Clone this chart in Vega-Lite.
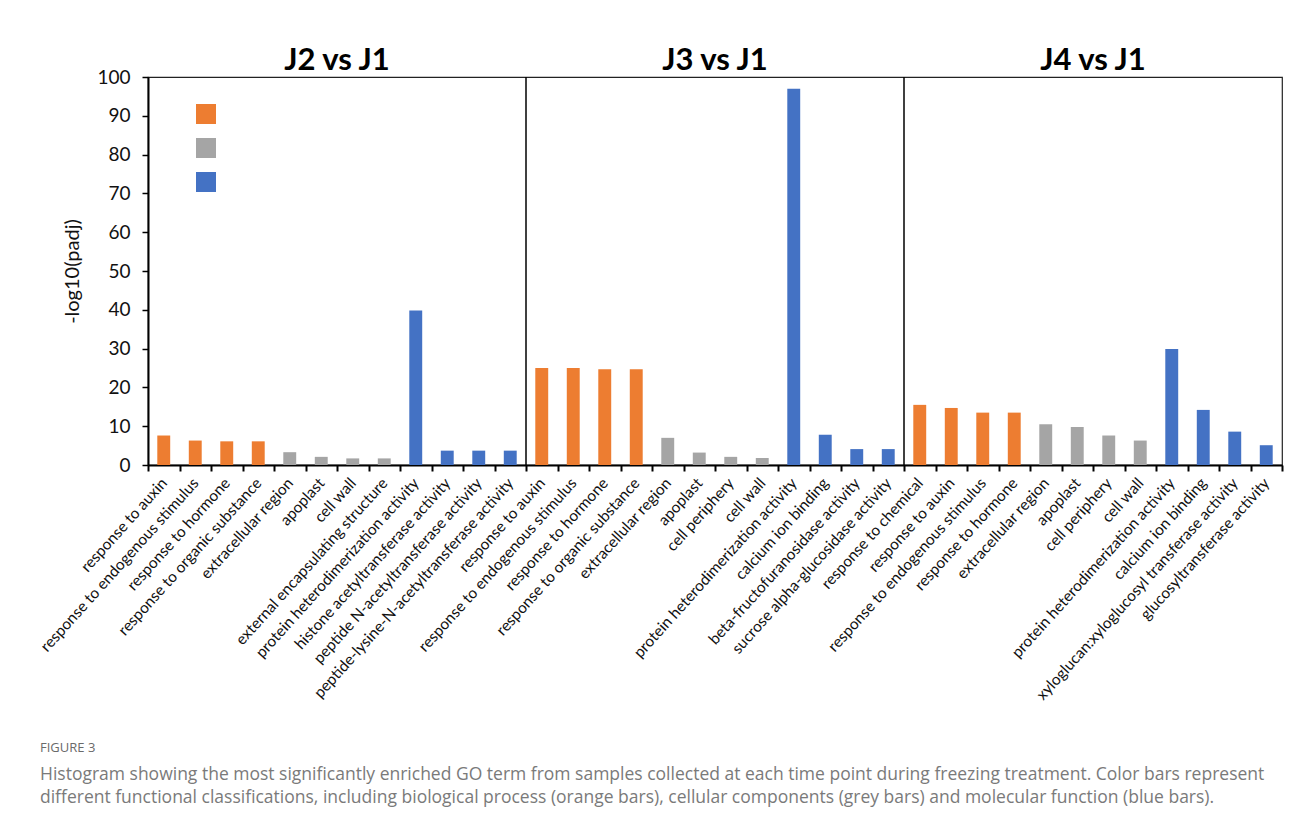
{
  "$schema": "https://vega.github.io/schema/vega-lite/v6.json",
  "width": 1134,
  "height": 388,
  "autosize": {"type": "none"},
  "padding": {"left": 148, "top": 77, "right": 8, "bottom": 367},
  "background": "white",
  "config": {
    "font": "Lato",
    "view": {"stroke": "#222", "strokeWidth": 1.2},
    "axis": {"grid": false, "domainColor": "#000", "tickColor": "#000", "labelColor": "#111", "titleColor": "#111"}
  },
  "title": {
    "text": "FIGURE 3",
    "subtitle": [
      "Histogram showing the most significantly enriched GO term from samples collected at each time point during freezing treatment. Color bars represent",
      "different functional classifications, including biological process (orange bars), cellular components (grey bars) and molecular function (blue bars)."
    ],
    "orient": "bottom",
    "anchor": "start",
    "frame": "group",
    "dx": -108,
    "offset": 39,
    "font": "Open Sans",
    "fontSize": 13,
    "fontWeight": "normal",
    "color": "#6a6a6a",
    "subtitleFont": "Open Sans",
    "subtitleFontSize": 17.5,
    "subtitleColor": "#7a7a7a",
    "subtitlePadding": 11,
    "subtitleLineHeight": 23
  },
  "resolve": {"axis": {"x": "independent", "y": "independent"}},
  "data": {
    "values": [
      {"key": "J2 vs J1|response to auxin", "group": "J2 vs J1", "cat": "Biological process", "value": 7.6},
      {"key": "J2 vs J1|response to endogenous stimulus", "group": "J2 vs J1", "cat": "Biological process", "value": 6.3},
      {"key": "J2 vs J1|response to hormone", "group": "J2 vs J1", "cat": "Biological process", "value": 6.1},
      {"key": "J2 vs J1|response to organic substance", "group": "J2 vs J1", "cat": "Biological process", "value": 6.1},
      {"key": "J2 vs J1|extracellular region", "group": "J2 vs J1", "cat": "Cellular component", "value": 3.3},
      {"key": "J2 vs J1|apoplast", "group": "J2 vs J1", "cat": "Cellular component", "value": 2.1},
      {"key": "J2 vs J1|cell wall", "group": "J2 vs J1", "cat": "Cellular component", "value": 1.7},
      {"key": "J2 vs J1|external encapsulating structure", "group": "J2 vs J1", "cat": "Cellular component", "value": 1.7},
      {"key": "J2 vs J1|protein heterodimerization activity", "group": "J2 vs J1", "cat": "Molecular function", "value": 39.8},
      {"key": "J2 vs J1|histone acetyltransferase activity", "group": "J2 vs J1", "cat": "Molecular function", "value": 3.7},
      {"key": "J2 vs J1|peptide N-acetyltransferase activity", "group": "J2 vs J1", "cat": "Molecular function", "value": 3.7},
      {"key": "J2 vs J1|peptide-lysine-N-acetyltransferase activity", "group": "J2 vs J1", "cat": "Molecular function", "value": 3.7},
      {"key": "J3 vs J1|response to auxin", "group": "J3 vs J1", "cat": "Biological process", "value": 25.0},
      {"key": "J3 vs J1|response to endogenous stimulus", "group": "J3 vs J1", "cat": "Biological process", "value": 25.0},
      {"key": "J3 vs J1|response to hormone", "group": "J3 vs J1", "cat": "Biological process", "value": 24.7},
      {"key": "J3 vs J1|response to organic substance", "group": "J3 vs J1", "cat": "Biological process", "value": 24.7},
      {"key": "J3 vs J1|extracellular region", "group": "J3 vs J1", "cat": "Cellular component", "value": 7.0},
      {"key": "J3 vs J1|apoplast", "group": "J3 vs J1", "cat": "Cellular component", "value": 3.2},
      {"key": "J3 vs J1|cell periphery", "group": "J3 vs J1", "cat": "Cellular component", "value": 2.1},
      {"key": "J3 vs J1|cell wall", "group": "J3 vs J1", "cat": "Cellular component", "value": 1.8},
      {"key": "J3 vs J1|protein heterodimerization activity", "group": "J3 vs J1", "cat": "Molecular function", "value": 97.0},
      {"key": "J3 vs J1|calcium ion binding", "group": "J3 vs J1", "cat": "Molecular function", "value": 7.8},
      {"key": "J3 vs J1|beta-fructofuranosidase activity", "group": "J3 vs J1", "cat": "Molecular function", "value": 4.1},
      {"key": "J3 vs J1|sucrose alpha-glucosidase activity", "group": "J3 vs J1", "cat": "Molecular function", "value": 4.1},
      {"key": "J4 vs J1|response to chemical", "group": "J4 vs J1", "cat": "Biological process", "value": 15.5},
      {"key": "J4 vs J1|response to auxin", "group": "J4 vs J1", "cat": "Biological process", "value": 14.7},
      {"key": "J4 vs J1|response to endogenous stimulus", "group": "J4 vs J1", "cat": "Biological process", "value": 13.5},
      {"key": "J4 vs J1|response to hormone", "group": "J4 vs J1", "cat": "Biological process", "value": 13.5},
      {"key": "J4 vs J1|extracellular region", "group": "J4 vs J1", "cat": "Cellular component", "value": 10.5},
      {"key": "J4 vs J1|apoplast", "group": "J4 vs J1", "cat": "Cellular component", "value": 9.8},
      {"key": "J4 vs J1|cell periphery", "group": "J4 vs J1", "cat": "Cellular component", "value": 7.6},
      {"key": "J4 vs J1|cell wall", "group": "J4 vs J1", "cat": "Cellular component", "value": 6.3},
      {"key": "J4 vs J1|protein heterodimerization activity", "group": "J4 vs J1", "cat": "Molecular function", "value": 29.9},
      {"key": "J4 vs J1|calcium ion binding", "group": "J4 vs J1", "cat": "Molecular function", "value": 14.2},
      {"key": "J4 vs J1|xyloglucan:xyloglucosyl transferase activity", "group": "J4 vs J1", "cat": "Molecular function", "value": 8.6},
      {"key": "J4 vs J1|glucosyltransferase activity", "group": "J4 vs J1", "cat": "Molecular function", "value": 5.1}
    ]
  },
  "layer": [
    {
      "mark": {"type": "bar", "width": {"band": 0.41}},
      "encoding": {
        "x": {
          "field": "key", "type": "nominal", "sort": null,
          "scale": {"paddingInner": 0, "paddingOuter": 0},
          "axis": {
            "orient": "bottom",
            "title": null,
            "labelExpr": "split(datum.value, '|')[1]",
            "labelAngle": -48,
            "labelFontSize": 15.5,
            "labelPadding": 9,
            "labelLimit": 400,
            "labelOverlap": false,
            "tickBand": "extent",
            "tickSize": 6,
            "tickWidth": 2,
            "domainWidth": 2
          }
        },
        "y": {
          "field": "value", "type": "quantitative",
          "scale": {"domain": [0, 100], "nice": false},
          "axis": {
            "orient": "left",
            "title": "-log10(padj)",
            "titleFontSize": 20,
            "titleFontWeight": "normal",
            "titlePadding": 14,
            "values": [0, 10, 20, 30, 40, 50, 60, 70, 80, 90, 100],
            "labelOverlap": false,
            "labelFontSize": 19,
            "labelPadding": 12,
            "tickSize": 6,
            "tickWidth": 1.5,
            "domainWidth": 2
          }
        },
        "color": {
          "field": "cat", "type": "nominal",
          "scale": {"domain": ["Biological process", "Cellular component", "Molecular function"], "range": ["#ED7D31", "#A5A5A5", "#4472C4"]},
          "legend": {
            "orient": "none",
            "legendX": 48,
            "legendY": 27,
            "title": null,
            "labelExpr": "''",
            "symbolType": "square",
            "symbolSize": 400,
            "symbolStrokeWidth": 0,
            "rowPadding": 14,
            "labelFontSize": 12
          }
        }
      }
    },
    {
      "transform": [{"filter": "datum.key == 'J3 vs J1|response to auxin' || datum.key == 'J4 vs J1|response to chemical'"}],
      "mark": {"type": "rule", "color": "#000", "strokeWidth": 1.5},
      "encoding": {
        "x": {"field": "key", "type": "nominal", "sort": null, "bandPosition": 0, "axis": null},
        "y": {"datum": 0, "axis": null},
        "y2": {"datum": 100}
      }
    },
    {
      "transform": [{"filter": "datum.key == 'J2 vs J1|cell wall' || datum.key == 'J3 vs J1|cell periphery' || datum.key == 'J4 vs J1|cell periphery'"}],
      "mark": {"type": "text", "fontSize": 31, "fontWeight": "bold", "color": "#000", "baseline": "alphabetic", "align": "center"},
      "encoding": {
        "x": {"field": "key", "type": "nominal", "sort": null, "bandPosition": 0, "axis": null},
        "y": {"datum": 101.8, "axis": null},
        "text": {"field": "group"}
      }
    }
  ]
}
